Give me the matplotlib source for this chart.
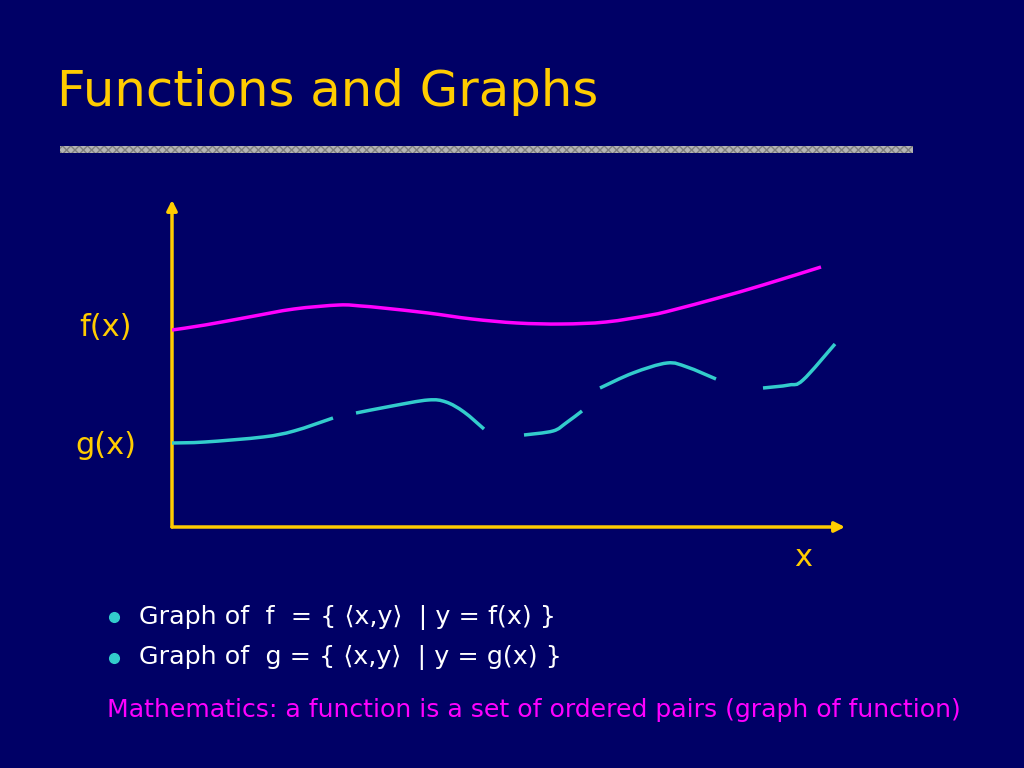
import matplotlib
matplotlib.use("Agg")
import matplotlib.pyplot as plt
from matplotlib.patches import FancyArrowPatch, Rectangle, PathPatch
from matplotlib.path import Path

BG = "#000066"
YELLOW = "#FFCC00"
MAGENTA = "#FF00FF"
CYAN = "#33CCCC"

TITLE = "Functions and Graphs"
BULLETS = ["Graph of  f  = { \u27e8x,y\u27e9  | y = f(x) }",
           "Graph of  g = { \u27e8x,y\u27e9  | y = g(x) }"]
FOOTER = "Mathematics: a function is a set of ordered pairs (graph of function)"

# f(x): one continuous curve (arbitrary units)
F_X = [0, 33, 77, 122, 167, 189, 211, 256, 300, 345, 390, 434, 479, 501, 546, 591, 649]
F_Y = [197, 202, 210, 218, 222, 221, 219, 214, 208, 204, 203, 205, 212, 217, 229, 242, 260]

# g(x): broken into pieces
G_PIECES = [
    ([0, 33, 91, 122, 161], [84, 85, 90, 96, 109]),
    ([184, 220, 256, 274, 292, 312], [114, 121, 127, 125, 115, 98]),
    ([352, 381, 394, 410], [92, 96, 104, 116]),
    ([428, 461, 495, 515, 544], [139, 154, 164, 160, 148]),
    ([591, 617, 631, 663], [139, 142, 147, 183]),
]


def smooth_path(xs, ys):
    # Catmull-Rom through the read points, drawn as cubic Bezier pieces
    pts = list(zip(xs, ys))
    verts = [pts[0]]
    codes = [Path.MOVETO]
    n = len(pts)
    for i in range(n - 1):
        p0 = pts[i - 1] if i > 0 else pts[i]
        p1, p2 = pts[i], pts[i + 1]
        p3 = pts[i + 2] if i + 2 < n else pts[i + 1]
        c1 = (p1[0] + (p2[0] - p0[0]) / 6, p1[1] + (p2[1] - p0[1]) / 6)
        c2 = (p2[0] - (p3[0] - p1[0]) / 6, p2[1] - (p3[1] - p1[1]) / 6)
        verts += [c1, c2, p2]
        codes += [Path.CURVE4] * 3
    return Path(verts, codes)


fig = plt.figure(figsize=(10.24, 7.68), dpi=100, facecolor=BG)

# page layer in pixel coordinates
page = fig.add_axes([0, 0, 1, 1])
page.set_xlim(0, 1024)
page.set_ylim(768, 0)
page.axis("off")
page.set_facecolor(BG)

page.text(57, 92, TITLE, color=YELLOW, fontsize=35.8, fontfamily="DejaVu Sans",
          va="center", ha="left")
page.add_patch(Rectangle((60, 146), 853, 7, facecolor="#b4b4b4", edgecolor="#7f7f7f",
                         hatch="xxxx", linewidth=0))

page.text(105, 328, "f(x)", color=YELLOW, fontsize=22, ha="center", va="center")
page.text(106, 446, "g(x)", color=YELLOW, fontsize=22, ha="center", va="center")
page.text(803, 557, "x", color=YELLOW, fontsize=22, ha="center", va="center")

for i, line in enumerate(BULLETS):
    y = 617 + 41 * i
    page.plot(114, y, "o", color=CYAN, markersize=7)
    page.text(139, y, line, color="white", fontsize=18.3, ha="left", va="center")

page.text(107, 710, FOOTER, color=MAGENTA, fontsize=18.1, ha="left", va="center")

# graph layer
ax = fig.add_axes([172 / 1024, (768 - 527) / 768, 673 / 1024, 327 / 768])
ax.set_xlim(0, 673)
ax.set_ylim(0, 327)
ax.axis("off")

ax.add_patch(FancyArrowPatch((0, 0), (0, 327), arrowstyle="-|>,head_length=6,head_width=3",
                             color=YELLOW, lw=2.5, shrinkA=0, shrinkB=0, clip_on=False))
ax.add_patch(FancyArrowPatch((0, 0), (673, 0), arrowstyle="-|>,head_length=6,head_width=3",
                             color=YELLOW, lw=2.5, shrinkA=0, shrinkB=0, clip_on=False))

ax.add_patch(PathPatch(smooth_path(F_X, F_Y), facecolor="none", edgecolor=MAGENTA,
                       lw=2.5, capstyle="butt"))
for xs, ys in G_PIECES:
    ax.add_patch(PathPatch(smooth_path(xs, ys), facecolor="none", edgecolor=CYAN,
                           lw=2.5, capstyle="butt"))

fig.savefig("out.png", dpi=100, facecolor=BG)
